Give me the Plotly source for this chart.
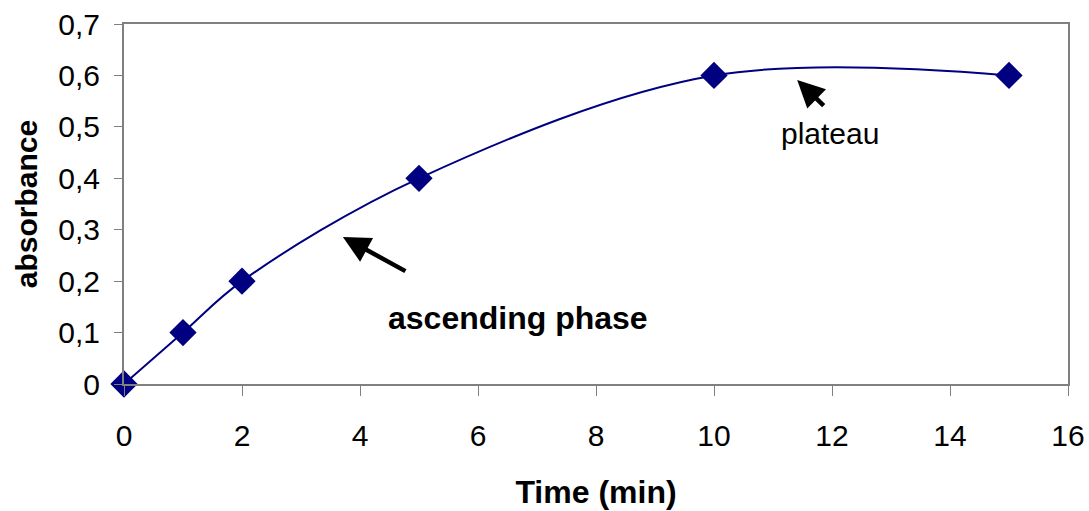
import plotly.graph_objects as go

time_min = [0, 1, 2, 5, 10, 15]
absorbance = [0, 0.1, 0.2, 0.4, 0.6, 0.6]

x_ticks = [0, 2, 4, 6, 8, 10, 12, 14, 16]
y_ticks = [0, 0.1, 0.2, 0.3, 0.4, 0.5, 0.6, 0.7]
y_tick_labels = ["0", "0,1", "0,2", "0,3", "0,4", "0,5", "0,6", "0,7"]

NAVY = "#000080"
FONT = "Liberation Sans, Arial, sans-serif"

fig = go.Figure()
fig.add_trace(go.Scatter(
    x=time_min, y=absorbance, mode="lines+markers",
    line=dict(color=NAVY, width=2, shape="spline", smoothing=1.0),
    marker=dict(symbol="diamond", size=21, color=NAVY),
    showlegend=False, cliponaxis=False,
))

axis_common = dict(
    showline=True, linecolor="#808080", linewidth=2, mirror=True,
    showgrid=False, zeroline=False, ticks="outside", tickcolor="#808080",
    tickfont=dict(family=FONT, size=30, color="black"),
    ticklabeloverflow="allow", automargin=False,
)

fig.update_xaxes(range=[0, 16], tickvals=x_ticks, ticklen=10, ticklabelstandoff=14,
                 title=dict(text="<b>Time (min)</b>", font=dict(family=FONT, size=32, color="black"), standoff=30),
                 **axis_common)
fig.update_yaxes(range=[0, 0.7001], tickvals=y_ticks, ticktext=y_tick_labels, ticklen=8,
                 ticklabelstandoff=8,
                 title=dict(text="<b>absorbance</b>", font=dict(family=FONT, size=30, color="black"), standoff=12),
                 **axis_common)

fig.add_annotation(x=3.71, y=0.286, ax=64, ay=35, axref="pixel", ayref="pixel",
                   text="", showarrow=True, arrowhead=2, arrowwidth=4.5, arrowsize=1.2, arrowcolor="black")
fig.add_annotation(x=11.41, y=0.591, ax=28, ay=27, axref="pixel", ayref="pixel",
                   text="", showarrow=True, arrowhead=2, arrowwidth=4.5, arrowsize=1.2, arrowcolor="black")
fig.add_annotation(x=6.68, y=0.128, text="<b>ascending phase</b>", showarrow=False,
                   font=dict(family=FONT, size=32, color="black"))
fig.add_annotation(x=11.97, y=0.488, text="plateau", showarrow=False,
                   font=dict(family=FONT, size=30, color="black"))

fig.update_layout(
    width=1089, height=511,
    margin=dict(l=124, r=21, t=24, b=127, autoexpand=False),
    paper_bgcolor="white", plot_bgcolor="white",
    font=dict(family=FONT, color="black"),
)

fig.write_html("out.html", config={"displayModeBar": False},
               post_script="document.body.style.margin='0';document.body.style.overflow='hidden';")
